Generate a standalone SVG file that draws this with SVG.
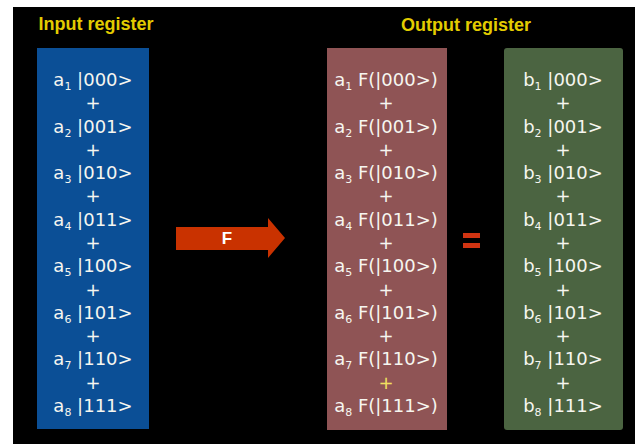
<svg xmlns="http://www.w3.org/2000/svg" width="638" height="444" viewBox="0 0 638 444">
<style>
.title{font-family:"Liberation Sans",Arial,sans-serif;font-weight:bold;font-size:18px;fill:#e3cc00;text-anchor:middle}
.t{font-family:"DejaVu Sans",sans-serif;font-size:18px;fill:#f6f6f0;text-anchor:middle}
.s{font-size:11px}
.f{font-family:"Liberation Sans",Arial,sans-serif;font-weight:bold;font-size:17px;fill:#ffffff;text-anchor:middle}
</style>
<rect x="0" y="0" width="638" height="444" fill="#ffffff"/>
<rect x="13" y="7" width="622" height="437" fill="#000000"/>
<text class="title" x="96" y="30">Input register</text>
<text class="title" x="466" y="31">Output register</text>

<g id="input">
<rect x="37" y="48" width="112" height="381" fill="#0b4f96"/>
<text class="t" x="93" y="86">a<tspan class="s" dy="4">1</tspan><tspan dy="-4"> |000&gt;</tspan></text>
<text class="t" x="93" y="109">+</text>
<text class="t" x="93" y="133">a<tspan class="s" dy="4">2</tspan><tspan dy="-4"> |001&gt;</tspan></text>
<text class="t" x="93" y="156">+</text>
<text class="t" x="93" y="179">a<tspan class="s" dy="4">3</tspan><tspan dy="-4"> |010&gt;</tspan></text>
<text class="t" x="93" y="202">+</text>
<text class="t" x="93" y="226">a<tspan class="s" dy="4">4</tspan><tspan dy="-4"> |011&gt;</tspan></text>
<text class="t" x="93" y="249">+</text>
<text class="t" x="93" y="272">a<tspan class="s" dy="4">5</tspan><tspan dy="-4"> |100&gt;</tspan></text>
<text class="t" x="93" y="296">+</text>
<text class="t" x="93" y="319">a<tspan class="s" dy="4">6</tspan><tspan dy="-4"> |101&gt;</tspan></text>
<text class="t" x="93" y="342">+</text>
<text class="t" x="93" y="365">a<tspan class="s" dy="4">7</tspan><tspan dy="-4"> |110&gt;</tspan></text>
<text class="t" x="93" y="389">+</text>
<text class="t" x="93" y="412">a<tspan class="s" dy="4">8</tspan><tspan dy="-4"> |111&gt;</tspan></text>
</g>

<g id="connectors">
<g id="arrowF">
<polygon points="176,227 268,227 268,218 285,238 268,258 268,250 176,250" fill="#c93200"/>
<text class="f" x="227" y="244">F</text>
</g>
<g id="equals">
<rect x="463" y="233" width="17" height="5" fill="#d03412"/>
<rect x="463" y="243" width="17" height="5" fill="#d03412"/>
</g>
</g>

<g id="output">
<rect x="327" y="48" width="120" height="382" fill="#8f5455"/>
<text class="t" x="386" y="86">a<tspan class="s" dy="4">1</tspan><tspan dy="-4"> F(|000&gt;)</tspan></text>
<text class="t" x="386" y="109">+</text>
<text class="t" x="386" y="133">a<tspan class="s" dy="4">2</tspan><tspan dy="-4"> F(|001&gt;)</tspan></text>
<text class="t" x="386" y="156">+</text>
<text class="t" x="386" y="179">a<tspan class="s" dy="4">3</tspan><tspan dy="-4"> F(|010&gt;)</tspan></text>
<text class="t" x="386" y="202">+</text>
<text class="t" x="386" y="226">a<tspan class="s" dy="4">4</tspan><tspan dy="-4"> F(|011&gt;)</tspan></text>
<text class="t" x="386" y="249">+</text>
<text class="t" x="386" y="272">a<tspan class="s" dy="4">5</tspan><tspan dy="-4"> F(|100&gt;)</tspan></text>
<text class="t" x="386" y="296">+</text>
<text class="t" x="386" y="319">a<tspan class="s" dy="4">6</tspan><tspan dy="-4"> F(|101&gt;)</tspan></text>
<text class="t" x="386" y="342">+</text>
<text class="t" x="386" y="365">a<tspan class="s" dy="4">7</tspan><tspan dy="-4"> F(|110&gt;)</tspan></text>
<text class="t" x="386" y="389" style="fill:#f0e060">+</text>
<text class="t" x="386" y="412">a<tspan class="s" dy="4">8</tspan><tspan dy="-4"> F(|111&gt;)</tspan></text>
</g>

<g id="result">
<rect x="504" y="48" width="119" height="382" rx="3" fill="#4b6441"/>
<text class="t" x="563" y="86">b<tspan class="s" dy="4">1</tspan><tspan dy="-4"> |000&gt;</tspan></text>
<text class="t" x="563" y="109">+</text>
<text class="t" x="563" y="133">b<tspan class="s" dy="4">2</tspan><tspan dy="-4"> |001&gt;</tspan></text>
<text class="t" x="563" y="156">+</text>
<text class="t" x="563" y="179">b<tspan class="s" dy="4">3</tspan><tspan dy="-4"> |010&gt;</tspan></text>
<text class="t" x="563" y="202">+</text>
<text class="t" x="563" y="226">b<tspan class="s" dy="4">4</tspan><tspan dy="-4"> |011&gt;</tspan></text>
<text class="t" x="563" y="249">+</text>
<text class="t" x="563" y="272">b<tspan class="s" dy="4">5</tspan><tspan dy="-4"> |100&gt;</tspan></text>
<text class="t" x="563" y="296">+</text>
<text class="t" x="563" y="319">b<tspan class="s" dy="4">6</tspan><tspan dy="-4"> |101&gt;</tspan></text>
<text class="t" x="563" y="342">+</text>
<text class="t" x="563" y="365">b<tspan class="s" dy="4">7</tspan><tspan dy="-4"> |110&gt;</tspan></text>
<text class="t" x="563" y="389">+</text>
<text class="t" x="563" y="412">b<tspan class="s" dy="4">8</tspan><tspan dy="-4"> |111&gt;</tspan></text>
</g>
</svg>
